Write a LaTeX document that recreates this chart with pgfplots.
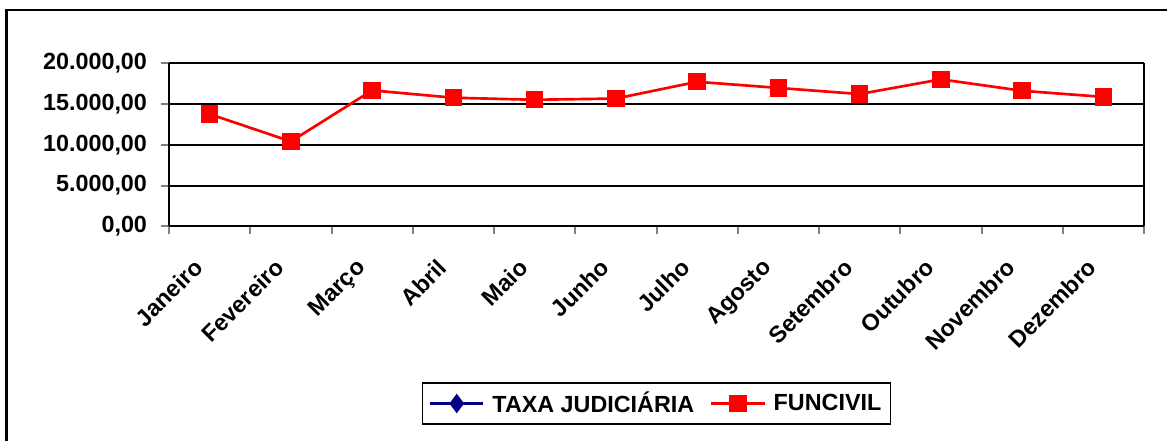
\documentclass[border=0pt]{standalone}
\usepackage{pgfplots}
\pgfplotsset{compat=1.18}
\usepackage{fontspec}
\setmainfont{Liberation Sans}
\definecolor{navyb}{RGB}{0,0,128}
\begin{document}
\begin{tikzpicture}
% page bounds 1167x441 px at 0.75pt/px
\path[use as bounding box] (0,0) rectangle (875.25pt,330.75pt);
% outer frame (left and top only)
\draw[line width=1.8pt] (4.9pt,0pt) -- (4.9pt,323.25pt) -- (875.25pt,323.25pt);
\begin{axis}[
  at={(126.75pt,160.9pt)}, anchor=south west,
  scale only axis, width=731.25pt, height=122.6pt,
  xmin=0.5, xmax=12.5, ymin=0, ymax=20000,
  scaled y ticks=false,
  axis line style={line width=1.5pt},
  xtick={1,...,12},
  xticklabels={Janeiro,Fevereiro,Março,Abril,Maio,Junho,Julho,Agosto,Setembro,Outubro,Novembro,Dezembro},
  major x tick style={draw=none},
  minor xtick={0.5,1.5,...,12.5},
  minor x tick style={line width=1.5pt},
  minor tick length=6pt,
  ytick={0,5000,10000,15000,20000},
  yticklabels={{0,00},{5.000,00},{10.000,00},{15.000,00},{20.000,00}},
  major y tick style={line width=1.5pt},
  major tick length=6pt,
  tick align=outside,
  tick pos=left,
  ymajorgrids,
  grid style={black, line width=1.5pt},
  axis x line*=bottom,
  axis y line*=left,
  yticklabel style={font=\fontsize{17.5}{20}\selectfont\bfseries, xshift=-7pt},
  xticklabel style={font=\fontsize{17.5}{20}\selectfont\bfseries, rotate=45, anchor=north east, inner sep=1pt, yshift=-1.8pt, xshift=-20.2pt},
  legend columns=2,
  legend style={at={(0.5,-1.083)}, anchor=center, draw=black, line width=1.2pt,
    font=\fontsize{17.5}{20}\selectfont\bfseries, inner xsep=5pt, inner ysep=5pt,
    /tikz/every odd column/.append style={column sep=4pt},
    /tikz/every even column/.append style={column sep=10pt}},
  legend image code/.code={\draw[#1, line width=1.6pt] (0pt,0pt) -- (40pt,0pt); \path[#1, mark repeat=1] plot coordinates {(20pt,0pt)};},
  clip=false,
]
% right axis line
\draw[line width=1.5pt] (rel axis cs:1,0) -- (rel axis cs:1,1);
\addlegendimage{navyb, line width=1.6pt, mark=diamond*, mark size=6pt, mark options={fill=navyb}}
\addlegendentry{TAXA JUDICIÁRIA}
\addplot[red, line width=2pt, mark=square*, mark size=5.5pt, mark options={fill=red, draw=red}] coordinates {
(1,13750) (2,10400) (3,16650) (4,15750) (5,15500) (6,15650) (7,17700) (8,16950) (9,16200) (10,18000) (11,16600) (12,15850)
};
\addlegendentry{FUNCIVIL}
\end{axis}
\end{tikzpicture}
\end{document}
